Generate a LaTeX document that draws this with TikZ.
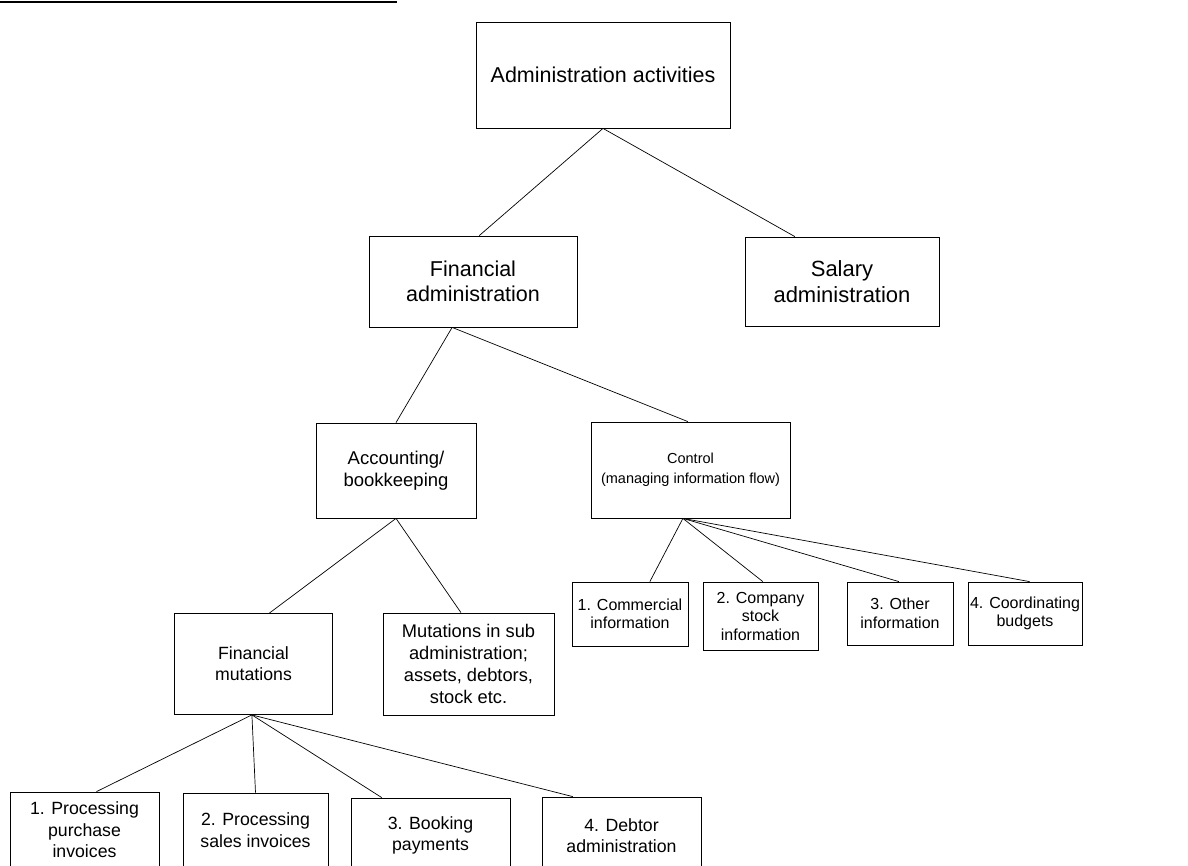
\documentclass[tikz,border=0pt]{standalone}
\usepackage{fontspec}
\setmainfont{Liberation Sans}
\usetikzlibrary{calc}
\begin{document}
\begin{tikzpicture}[x=1pt,y=-1pt,
  box/.style={draw=black, line width=0.8pt, rectangle, align=center, inner sep=2pt},
  conn/.style={draw=black, line width=0.7pt},
  fbig/.style={font=\fontsize{21.5}{25}\selectfont},
  fsal/.style={font=\fontsize{22}{25.5}\selectfont},
  ftop/.style={font=\fontsize{21.5}{25}\selectfont},
  facct/.style={font=\fontsize{18.5}{21.5}\selectfont},
  fctrl/.style={font=\fontsize{14.5}{20}\selectfont},
  fmut/.style={font=\fontsize{17.7}{21}\selectfont},
  fsub/.style={font=\fontsize{18.3}{21.8}\selectfont},
  fleaf/.style={font=\fontsize{16}{18.5}\selectfont},
  fbot/.style={font=\fontsize{17.7}{21.5}\selectfont}]
\useasboundingbox (0,0) rectangle (1188,865);
% header rule
\draw[line width=2pt] (0,2) -- (397,2);
% nodes
\node[box,ftop,minimum width=254pt,minimum height=106pt] (admin) at (603,75) {Administration activities};
\node[box,fbig,minimum width=208pt,minimum height=91pt] (finadm) at (473,281.5) {Financial\\administration};
\node[box,fsal,minimum width=194pt,minimum height=89pt] (salary) at (842,281.5) {Salary\\administration};
\node[box,facct,minimum width=160pt,minimum height=95pt] (acct) at (396,470.5) {Accounting/\\bookkeeping};
\node[box,fctrl,minimum width=199pt,minimum height=96pt] (control) at (690.5,470) {Control\\(managing information flow)};
\node[box,fmut,minimum width=158pt,minimum height=101pt] (finmut) at (253.5,664) {Financial\\mutations};
\node[box,fsub,minimum width=171pt,minimum height=102pt] (mutsub) at (468.5,664) {Mutations in sub\\administration;\\assets, debtors,\\stock etc.};
\node[box,fleaf,minimum width=116pt,minimum height=64pt] (c1) at (630,614) {1. Commercial\\information};
\node[box,fleaf,minimum width=115pt,minimum height=68pt] (c2) at (760.5,616) {2. Company\\stock\\information};
\node[box,fleaf,minimum width=106pt,minimum height=63pt] (c3) at (900,613.5) {3. Other\\information};
\node[box,fleaf,minimum width=114pt,minimum height=63pt] (c4) at (1025,613.5) {4. Coordinating\\budgets};
\node[box,fbot,minimum width=149pt,minimum height=76pt] (b1) at (84.5,830) {1. Processing\\purchase\\invoices};
\node[box,fbot,minimum width=145pt,minimum height=74pt] (b2) at (255.5,830) {2. Processing\\sales invoices};
\node[box,fbot,minimum width=159pt,minimum height=75pt] (b3) at (430.5,835.5) {3. Booking\\payments};
\node[box,fbot,minimum width=159pt,minimum height=77pt] (b4) at (621.5,835.5) {4. Debtor\\administration};
% connectors
\draw[conn] (admin.south) -- ($(finadm.north west)!0.53!(finadm.north east)$);
\draw[conn] (admin.south) -- ($(salary.north west)!0.258!(salary.north east)$);
\draw[conn] ($(finadm.south west)!0.4!(finadm.south east)$) -- (acct.north);
\draw[conn] ($(finadm.south west)!0.4!(finadm.south east)$) -- ($(control.north west)!0.487!(control.north east)$);
\draw[conn] (acct.south) -- ($(finmut.north west)!0.6!(finmut.north east)$);
\draw[conn] (acct.south) -- ($(mutsub.north west)!0.456!(mutsub.north east)$);
\draw[conn] ($(control.south west)!0.462!(control.south east)$) -- ($(c1.north west)!0.67!(c1.north east)$);
\draw[conn] ($(control.south west)!0.462!(control.south east)$) -- ($(c2.north west)!0.52!(c2.north east)$);
\draw[conn] ($(control.south west)!0.462!(control.south east)$) -- ($(c3.north west)!0.49!(c3.north east)$);
\draw[conn] ($(control.south west)!0.462!(control.south east)$) -- ($(c4.north west)!0.54!(c4.north east)$);
\draw[conn] ($(finmut.south west)!0.49!(finmut.south east)$) -- ($(b1.north west)!0.58!(b1.north east)$);
\draw[conn] ($(finmut.south west)!0.49!(finmut.south east)$) -- ($(b2.north west)!0.5!(b2.north east)$);
\draw[conn] ($(finmut.south west)!0.49!(finmut.south east)$) -- ($(b3.north west)!0.195!(b3.north east)$);
\draw[conn] ($(finmut.south west)!0.49!(finmut.south east)$) -- ($(b4.north west)!0.195!(b4.north east)$);
\end{tikzpicture}
\end{document}
